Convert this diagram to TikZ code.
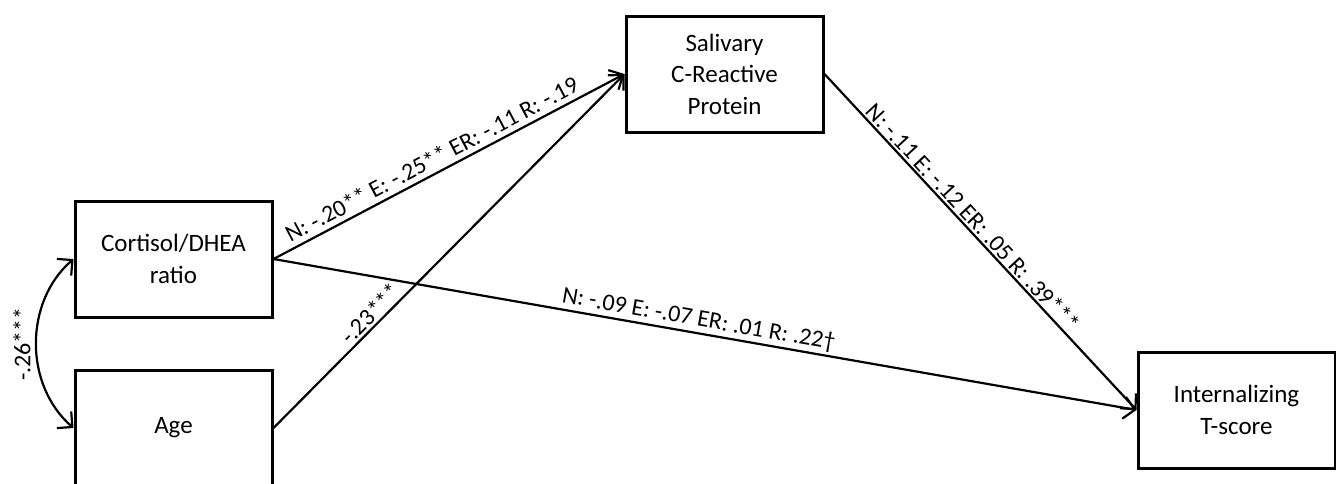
\documentclass[tikz,border=0pt]{standalone}
\usepackage{fontspec}
\setmainfont{Carlito}
\usetikzlibrary{arrows.meta}
\begin{document}
\begin{tikzpicture}[x=1pt,y=-1pt,
  varbox/.style={draw, line width=3pt, minimum width=197pt, minimum height=116pt, inner sep=0pt, align=center, font=\fontsize{25}{31.5}\selectfont},
  path/.style={line width=2.2pt, -{Straight Barb[length=11pt,width=22pt,line width=2.2pt]}},
  lbl/.style={sloped, font=\fontsize{24}{28}\selectfont, inner sep=2pt}
]
\useasboundingbox (0,0) rectangle (1336,483);
\clip (0,0) rectangle (1336,483);
\node[varbox] (cort) at (173.5,259) {Cortisol/DHEA\\ratio};
\node[varbox] (age) at (173.5,428) {Age};
\node[varbox] (sal) at (724.5,74) {Salivary\\C-Reactive\\Protein};
\node[varbox] (int) at (1236.5,410) {Internalizing\\T-score};

\draw[path] (cort.east) -- node[lbl, above, inner sep=5pt, pos=0.47] {N: -.20** E: -.25** ER: -.11 R: -.19} (sal.west);
\draw[path] (age.east) -- node[lbl, above, pos=0.30] {-.23***} (sal.west);
\draw[path] (cort.east) -- node[lbl, above, pos=0.49] {N: -.09 E: -.07 ER: .01 R: .22†} (int.west);
\draw[path] (sal.east) -- node[lbl, above, pos=0.45] {N: -.11 E: -.12 ER: .05 R: .39***} (int.west);

\draw[line width=2.2pt, {Straight Barb[length=11pt,width=22pt,line width=2.2pt]}-{Straight Barb[length=11pt,width=22pt,line width=2.2pt]}]
  (cort.west) .. controls (24,302) and (24,385) .. (age.west);
\coordinate (lab26) at (22,344);
\node[font=\fontsize{24}{28}\selectfont, rotate=90, inner sep=0pt] (corr) at (lab26) {-.26***};
\end{tikzpicture}
\end{document}
